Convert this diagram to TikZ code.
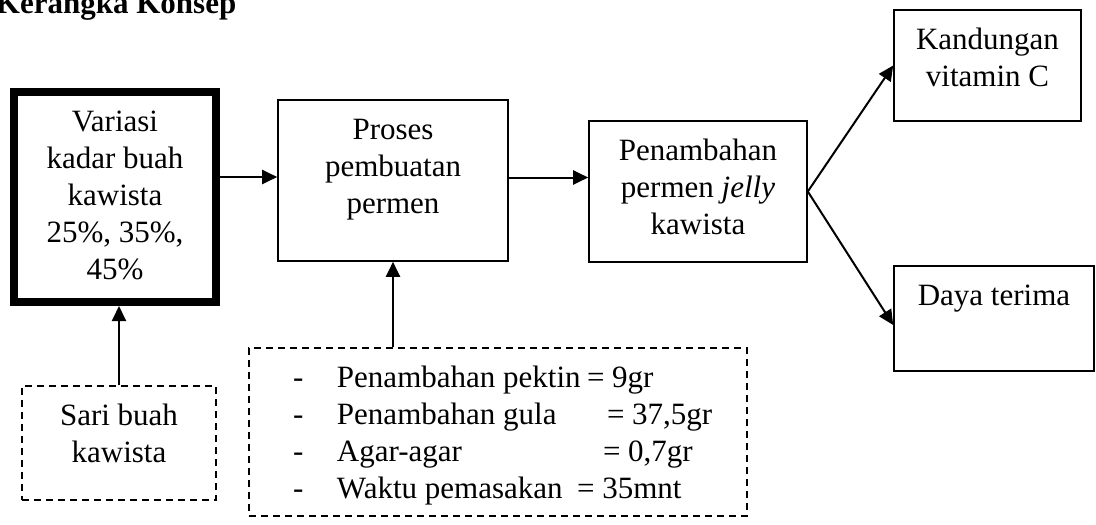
\documentclass[tikz,border=0pt]{standalone}
\usepackage{fontspec}
\setmainfont{Liberation Serif}
\usetikzlibrary{arrows.meta}

\newcommand{\isikotak}[3]{\begin{minipage}[c][#2][t]{#1}\centering\rule{0pt}{39pt}#3\end{minipage}}
\newcommand{\baris}[3]{\hspace*{44pt}\makebox[44pt][l]{-}\makebox[#2][l]{#1}= #3}

\begin{document}
\begin{tikzpicture}[x=1pt, y=-1pt, thick, >={Triangle[length=15pt,width=14pt]}, font=\fontsize{31}{37}\selectfont]
        \tikzstyle{kotak}=[rectangle,draw=black,line width=1.6pt,inner sep=0pt]
        \tikzstyle{tebal}=[kotak,line width=8pt]
        \tikzstyle{putus}=[kotak,line width=1.5pt,dash pattern=on 7pt off 5pt]
        \tikzstyle{panah}=[->,line width=2pt]

        \useasboundingbox (0,0) rectangle (1096,525);
        \clip (0,0) rectangle (1096,525);

        \node[anchor=base east] (judul) at (240,13) {\bfseries Kerangka Konsep};

        \node[tebal] (variasi) at (115,197) {\isikotak{202pt}{210pt}{Variasi\\kadar buah\\kawista\\25\%, 35\%,\\45\%}};
        \node[putus] (sari) at (119,443) {\isikotak{194pt}{114pt}{Sari buah\\kawista}};
        \node[kotak] (proses) at (393,180.5) {\isikotak{230pt}{161pt}{Proses\\pembuatan\\permen}};
        \node[putus] (bahan) at (498,432) {\begin{minipage}[c][168pt][t]{498pt}\raggedright\rule{0pt}{39pt}%
            \baris{Penambahan pektin}{250pt}{9gr}\\
            \baris{Penambahan gula}{270pt}{37,5gr}\\
            \baris{Agar-agar}{266pt}{0,7gr}\\
            \baris{Waktu pemasakan}{240pt}{35mnt}\end{minipage}};
        \node[kotak] (penambahan) at (698,191.5) {\isikotak{218pt}{141pt}{Penambahan\\permen \textit{jelly}\\kawista}};
        \node[kotak] (kandungan) at (987.5,65.5) {\isikotak{187pt}{111pt}{Kandungan\\vitamin C}};
        \node[kotak] (daya) at (994,318.5) {\isikotak{200pt}{105pt}{Daya terima}};

        \coordinate (masuk) at ([yshift=3.5pt]proses.west);
        \coordinate (keluar) at ([yshift=3pt]proses.east);

        \draw[panah] (sari.north) -- (sari.north |- variasi.south);
        \draw[panah] (variasi.east |- masuk) -- (masuk);
        \draw[panah] (proses.south |- bahan.north) -- (proses.south);
        \draw[panah] (keluar) -- (keluar -| penambahan.west);
        \draw[panah] (penambahan.east) -- (kandungan.west);
        \draw[panah] (penambahan.east) -- ([yshift=-6.5pt]daya.west);
    \end{tikzpicture}
\end{document}
